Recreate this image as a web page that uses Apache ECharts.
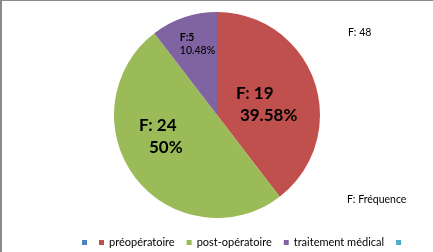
<!DOCTYPE html>
<html>
<head>
<meta charset="utf-8">
<script src="https://cdn.jsdelivr.net/npm/echarts@6/dist/echarts.min.js"></script>
<style>html,body{margin:0;padding:0;background:#fff;}#c{width:433px;height:252px;}</style>
</head>
<body>
<div id="c"></div>
<script>
// Data
const categories = ['', 'préopératoire', 'post-opératoire', 'traitement médical', ''];
const values = [0, 19, 24, 5, 0];
const freqLabels = ['', 'F: 19', 'F: 24', 'F:5', ''];
const pctLabels = ['', '39.58%', '50%', '10.48%', ''];
const totalLabel = 'F: 48';
const noteLabel = 'F: Fréquence';

const colors = ['#4F81BD', '#C0504D', '#9BBB59', '#8064A2', '#4BACC6'];
const FONT = 'Lato';

// label styling per slice (offsets relative to the default inside position)
const labelStyle = [
  null,
  {size: 17, lh: 22, indent: 4, dx: -2, dy: 7, bold: true},
  {size: 17, lh: 22, indent: 10, dx: -13, dy: -12, bold: true},
  {size: 10.5, lh: 13, indent: 0, dx: -2, dy: -19, bold: false},
  null
];

const names = categories.map((c, i) => c || ('_blank' + i));

const data = values.map((v, i) => {
  const s = labelStyle[i];
  const item = {name: names[i], value: v};
  if (!s) {
    item.label = {show: false};
  } else {
    item.label = {
      show: true,
      position: 'inside',
      formatter: '{a|' + freqLabels[i] + '}\n{b|' + pctLabels[i] + '}',
      rich: {
        a: {align: 'left', fontSize: s.size, lineHeight: s.lh, fontWeight: 'bold', color: '#000', fontFamily: FONT},
        b: {align: 'left', fontSize: s.size, lineHeight: s.lh, fontWeight: s.bold ? 'bold' : 500, color: '#000', fontFamily: FONT, padding: [0, 0, 0, s.indent]}
      }
    };
  }
  return item;
});

const chart = echarts.init(document.getElementById('c'), null, {renderer: 'canvas'});
chart.setOption({
  animation: false,
  backgroundColor: '#fff',
  color: colors,
  legend: {
    data: names,
    left: 77,
    top: 232,
    itemWidth: 5,
    itemHeight: 5,
    itemGap: 12,
    icon: 'rect',
    selectedMode: false,
    formatter: (n) => categories[names.indexOf(n)],
    textStyle: {fontFamily: FONT, fontSize: 11, color: '#000'}
  },
  series: [{
    type: 'pie',
    center: [217, 115],
    radius: 103,
    startAngle: 90,
    clockwise: true,
    avoidLabelOverlap: false,
    stillShowZeroSum: true,
    itemStyle: {borderWidth: 0},
    emphasis: {disabled: true},
    labelLine: {show: false},
    labelLayout: (p) => {
      const s = labelStyle[p.dataIndex];
      return s ? {dx: s.dx, dy: s.dy} : {};
    },
    data: data
  }],
  graphic: [
    {type: 'rect', shape: {x: 0, y: 0, width: 2, height: 252}, style: {fill: '#8a8a8a'}, silent: true},
    {type: 'rect', shape: {x: 0, y: 0, width: 433, height: 1}, style: {fill: '#8a8a8a'}, silent: true},
    {type: 'text', left: 348, top: 27, style: {text: totalLabel, fontFamily: FONT, fontSize: 10.5, fill: '#000'}},
    {type: 'text', left: 347, top: 194, style: {text: noteLabel, fontFamily: FONT, fontSize: 10.5, fill: '#000'}}
  ]
});
</script>
</body>
</html>
